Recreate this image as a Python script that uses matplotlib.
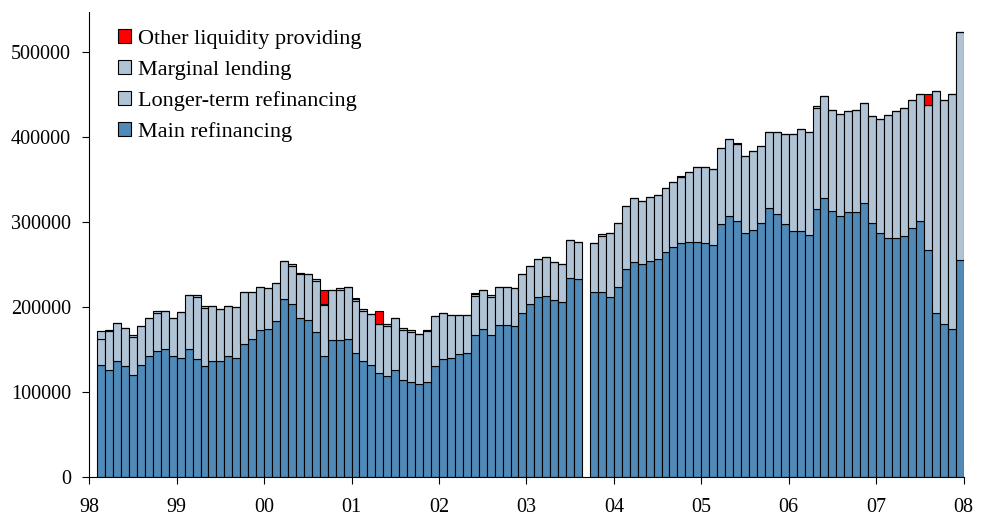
import numpy as np
import matplotlib
matplotlib.use("Agg")
import matplotlib.pyplot as plt
from matplotlib.patches import Patch

plt.rcParams['font.family'] = ['Liberation Serif', 'DejaVu Serif']

# values in thousands, one per slot (11 slots per year from 98 to 08), None = missing slot
main_refi = [132.0, 126.0, 136.3, 130.0, 119.8, 132.0, 141.8, 147.8, 150.5, 142.2,
             140.3, 150.5, 138.7, 130.0, 135.9, 135.9, 141.8, 140.3, 156.8, 162.7,
             172.6, 174.6, 183.6, 209.2, 203.3, 187.2, 185.2, 170.6, 142.2, 160.8,
             160.8, 162.7, 146.2, 135.9, 132.0, 122.1, 118.2, 125.3, 113.5, 111.5,
             109.6, 111.5, 130.0, 138.3, 140.3, 144.2, 146.2, 166.7, 174.6, 166.7,
             178.5, 178.5, 177.3, 193.0, 203.3, 211.2, 213.1, 208.0, 205.3, 233.7,
             232.5, None,
             217.1, 217.9, 212.0, 223.8, 244.3, 252.6, 250.6, 254.5, 256.5, 265.1,
             271.0, 275.0, 277.0, 276.2, 275.0, 273.0, 297.5, 307.7, 301.4, 287.6,
             290.8, 299.4, 316.4, 309.7, 297.5, 289.6, 289.6, 284.9, 315.6, 328.2,
             313.6, 307.7, 311.7, 311.7, 322.3, 299.4, 287.6, 281.7, 281.7, 283.7,
             293.5, 301.8, 267.1, 193.5, 179.7, 173.8, 255.3]
longer_term = [30.7, 45.4, 45.4, 45.3, 44.9, 45.3, 45.8, 45.6, 44.9, 45.0,
               53.6, 63.5, 73.3, 69.3, 65.1, 61.9, 59.5, 59.5, 61.1, 55.2,
               51.2, 47.2, 44.9, 45.3, 45.3, 51.1, 53.2, 59.9, 59.9, 59.1,
               59.0, 61.1, 60.8, 59.5, 59.5, 58.4, 59.3, 61.9, 59.8, 59.1,
               59.1, 59.9, 59.1, 55.2, 50.8, 46.9, 44.9, 46.2, 45.3, 45.3,
               45.3, 45.3, 44.5, 45.4, 44.9, 45.3, 45.4, 44.6, 45.3, 45.3,
               44.5, None,
               57.9, 65.8, 74.9, 75.6, 75.2, 75.6, 74.8, 75.6, 75.7, 74.9,
               75.7, 78.6, 81.9, 88.6, 89.8, 89.9, 89.9, 90.3, 90.4, 89.9,
               92.5, 89.8, 89.4, 96.1, 106.4, 114.3, 120.6, 120.9, 118.9, 120.1,
               119.0, 120.2, 118.9, 120.9, 118.2, 125.3, 134.4, 145.0, 148.9, 150.9,
               150.9, 148.6, 171.4, 261.6, 264.7, 276.6, 269.2]
marginal = [8.7, 2, 0, 0, 2, 0, 0, 2, 0, 0,
            0, 0, 2, 2, 0, 0, 0, 0, 0, 0,
            0, 0, 0, 0, 2, 2, 0, 2, 2, 0,
            2, 0, 2, 2, 0, 0, 2, 0, 2, 2,
            0, 2, 0, 0, 0, 0, 0, 2, 0, 2,
            0, 0, 0, 0, 0, 0, 0, 0, 0, 0,
            0, None,
            0, 2, 0, 0, 0, 0, 0, 0, 0, 0,
            0, 0, 0, 0, 0, 0, 0, 0, 0, 0,
            0, 0, 0, 0, 0, 0, 0, 0, 2, 0,
            0, 0, 0, 0, 0, 0, 0, 0, 0, 0,
            0, 0, 0, 0, 0, 0, 0]
other = [0, 0, 0, 0, 0, 0, 0, 0, 0, 0,
         0, 0, 0, 0, 0, 0, 0, 0, 0, 0,
         0, 0, 0, 0, 0, 0, 0, 0, 15.8, 0,
         0, 0, 1, 0, 0, 14.5, 1, 0, 0, 0,
         0, 0, 0, 0, 0, 0, 0, 1, 0, 0,
         0, 0, 0, 0, 0, 0, 0, 0, 0, 0,
         0, None,
         0, 0, 0, 0, 0, 0, 0, 0, 0, 0,
         0, 1, 0, 0, 0, 0, 0, 0, 1.5, 0,
         0, 0, 0, 0, 0, 0, 0, 0, 0, 0,
         0, 0, 0, 0, 0, 0, 0, 0, 0, 0,
         0, 0, 11.9, 0, 0, 0, 0]
year_labels = ['98', '99', '00', '01', '02', '03', '04', '05', '06', '07', '08']

def arr(v):
    return np.array([np.nan if x is None else x for x in v]) * 1000

main_a, ltro_a, marg_a, oth_a = arr(main_refi), arr(longer_term), arr(marginal), arr(other)
ok = ~np.isnan(main_a)
slot = 1 / 11
x = (np.arange(len(main_refi)) + 1) * slot
x, main_a, ltro_a, marg_a, oth_a = x[ok], main_a[ok], ltro_a[ok], marg_a[ok], oth_a[ok]

c_main = '#4F8AB8'
c_light = '#B0C4D6'
c_other = '#FF0000'

fig = plt.figure(figsize=(9.83, 5.19), dpi=100)
ax = fig.add_axes([0.0908, 0.0815, 0.8894, 0.896])

kw = dict(width=slot, align='edge', edgecolor='black', linewidth=0.8)
ax.bar(x, main_a, color=c_main, **kw)
ax.bar(x, ltro_a, bottom=main_a, color=c_light, **kw)
ax.bar(x, marg_a, bottom=main_a + ltro_a, color=c_light, **kw)
ax.bar(x, oth_a, bottom=main_a + ltro_a + marg_a, color=c_other, **kw)

ax.set_xlim(0, 10)
ax.set_ylim(0, 548000)
ax.set_xticks(np.arange(len(year_labels)))
ax.set_xticklabels(year_labels)
ax.set_yticks(np.arange(0, 500001, 100000))
ax.set_yticklabels([str(v) for v in range(0, 500001, 100000)])
ax.tick_params(axis='both', direction='out', length=5, width=0.8, labelsize=14.5, color='black')
ax.tick_params(axis='x', pad=10.5)
ax.tick_params(axis='y', pad=8)
for s in ['top', 'right']:
    ax.spines[s].set_visible(False)
for s in ['left', 'bottom']:
    ax.spines[s].set_linewidth(0.8)

handles = [Patch(facecolor=c_other, edgecolor='black', linewidth=0.8),
           Patch(facecolor=c_light, edgecolor='black', linewidth=0.8),
           Patch(facecolor=c_light, edgecolor='black', linewidth=0.8),
           Patch(facecolor=c_main, edgecolor='black', linewidth=0.8)]
labels = ['Other liquidity providing', 'Marginal lending',
          'Longer-term refinancing', 'Main refinancing']
ax.legend(handles, labels, loc='upper left', bbox_to_anchor=(0.033, 0.962),
          frameon=False, fontsize=16, handlelength=0.6, handleheight=0.6,
          handletextpad=0.3, labelspacing=0.5, borderpad=0, borderaxespad=0)

fig.savefig('out.png', dpi=100)
